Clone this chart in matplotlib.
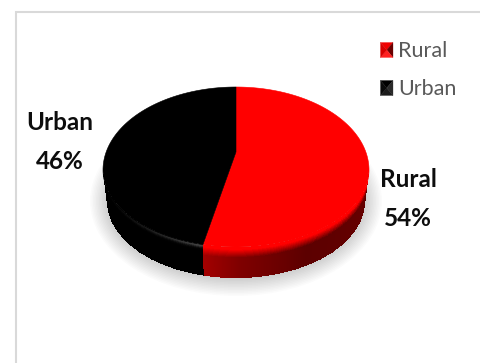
import numpy as np
import matplotlib
matplotlib.use("Agg")
import matplotlib.pyplot as plt
from matplotlib.patches import Ellipse, Polygon

categories = ["Rural", "Urban"]
shares = [54, 46]
slice_colors = ["#ff0000", "#000000"]

W, H = 481, 363
fig = plt.figure(figsize=(W / 100, H / 100), dpi=100)
ax = fig.add_axes([0, 0, 1, 1])
ax.set_xlim(0, W)
ax.set_ylim(H, 0)
ax.axis("off")

# Chart frame: only the top and left edges fall inside the canvas
ax.plot([16, 16, W], [H, 12, 12], color="#d9d9d9", lw=1.5, solid_joinstyle="miter")

# Tilted disc geometry
cx, cy = 236, 170
a, b_up, b_low = 133, 83, 77
depth = 31
hub = (236, 152)


def rim(theta):
    """Point on the top rim; theta runs clockwise from twelve o'clock."""
    b = np.where(np.cos(theta) >= 0, b_up, b_low)
    return cx + a * np.sin(theta), cy - b * np.cos(theta)


# Soft shadow under the disc
for i in range(14):
    ax.add_patch(Ellipse((cx, cy + 31), 2 * (a + 13 - i * 1.5), 2 * (b_low + 18 - i * 1.5),
                         fc="#000000", ec="none", alpha=0.014, zorder=1))

boundary = 2 * np.pi * shares[0] / sum(shares)

# Side wall: a fine mesh over rim angle and wall height, tapering slightly downwards
thetas = np.linspace(np.pi / 2, 3 * np.pi / 2, 361)
heights = np.linspace(0, 1, 61)
T, D = np.meshgrid(thetas, heights, indexing="ij")
rx, ry = rim(T)
X = cx + (rx - cx) * (1 - 0.03 * D)
Y = ry + D * depth
Tc = 0.5 * (T[:-1, :-1] + T[1:, 1:])
Dc = 0.5 * (D[:-1, :-1] + D[1:, 1:])

is_rural = Tc < boundary
sweep = (Tc - np.pi / 2) / (boundary - np.pi / 2)
base_red = np.interp(sweep, [0, 0.12, 0.55, 0.85, 1.0], [0.32, 0.40, 0.36, 0.50, 0.64])
fade = np.clip((Dc - 0.08) / 0.26, 0, 1)
red_level = 1.0 + (base_red - 1.0) * fade
# Faint rim light on the dark slice, strongest next to the slice edge
urban_span = 3 * np.pi / 2 - boundary
to_left = np.clip(1 - (Tc - boundary) / urban_span, 0, 1)
grey = 0.27 * to_left ** 2 * np.exp(-((Dc - 0.03) / 0.07) ** 2)

C = np.zeros(Tc.shape + (3,))
C[..., 0] = np.where(is_rural, red_level, grey)
C[..., 1] = np.where(is_rural, 0, grey)
C[..., 2] = np.where(is_rural, 0, grey)
ax.pcolormesh(X, Y, C, shading="flat", antialiased=False, zorder=2, rasterized=True)

# Top faces, swept from each category's share
start = 0.0
for share, color in zip(shares, slice_colors):
    stop = start + 2 * np.pi * share / sum(shares)
    arc = np.linspace(start, stop, 240)
    px, py = rim(arc)
    pts = np.column_stack([np.r_[hub[0], px], np.r_[hub[1], py]])
    ax.add_patch(Polygon(pts, closed=True, fc=color, ec=color, lw=0.4, zorder=3))
    start = stop

# Data labels
label_font = dict(family="Lato", fontweight="bold", fontsize=17.5, color="#0d0d0d",
                  ha="center", va="center", linespacing=1.8)
label_pos = {"Rural": (408, 199), "Urban": (60, 142)}
for name, share in zip(categories, shares):
    ax.text(*label_pos[name], f"{name}\n{share}%", **label_font, zorder=5)

# Legend with bevelled swatches
legend_y = {"Rural": 50, "Urban": 88}
for name, color in zip(categories, slice_colors):
    y = legend_y[name]
    x0, x1, y0, y1 = 380.5, 393, y - 7.5, y + 7.5
    mx, my = (x0 + x1) / 2, (y0 + y1) / 2
    is_red = color == "#ff0000"
    shades = (["#f00000", "#6a0000", "#ff2020", "#d80000"] if is_red
              else ["#000000", "#2a2a2a", "#1c1c1c", "#0a0a0a"])
    corners = [(x0, y0), (x1, y0), (x1, y1), (x0, y1)]
    for k, shade in enumerate(shades):
        ax.add_patch(Polygon([corners[k], corners[(k + 1) % 4], (mx, my)], closed=True,
                             fc=shade, ec=shade, lw=0.2, zorder=4))
    ax.text(398, y + 1, name, family="Lato", fontsize=15.5, color="#595959",
            ha="left", va="center", zorder=5)

fig.savefig("out.png", dpi=100)
